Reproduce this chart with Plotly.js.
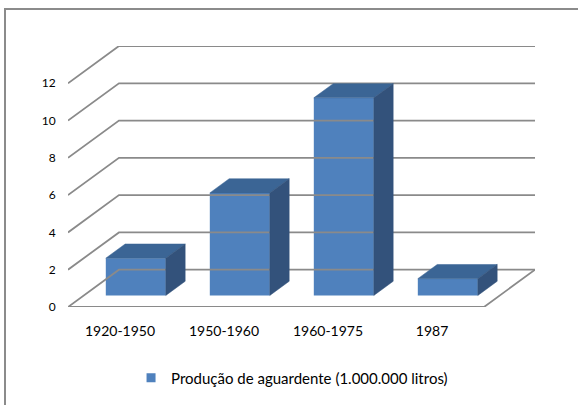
<!DOCTYPE html>
<html>
<head>
<meta charset="utf-8">
<script src="https://cdn.plot.ly/plotly-3.0.1.min.js"></script>
<style>
  html, body { margin: 0; padding: 0; background: #ffffff; overflow: hidden; }
  #wrap { position: relative; width: 578px; height: 405px; }
  #chart { position: absolute; left: 0; top: 0; width: 578px; height: 405px; }
  #frame { position: absolute; left: 4px; top: 8px; width: 700px; height: 600px;
           border-left: 2px solid #8b8b8b; border-top: 2px solid #8b8b8b; pointer-events: none; }
</style>
</head>
<body>
<div id="wrap">
  <div id="chart"></div>
  <div id="frame"></div>
</div>
<script>
// Produção de aguardente por período (milhões de litros)
const categories = ['1920-1950', '1950-1960', '1960-1975', '1987'];
const production = [2.0, 5.5, 10.6, 0.9];
const yTicks = [0, 2, 4, 6, 8, 10, 12];
const seriesName = 'Produção de aguardente (1.000.000 litros)';

// 3D box geometry, in axis units
const DEPTH_X = 0.49;     // floor depth along x
const DEPTH_Y = 2;        // floor depth along y
const BAR_W = 0.577;      // bar width
const BAR_FRONT = 0.31;   // where the bar front sits inside the floor depth
const BAR_DEPTH = 0.38;   // bar depth as a fraction of floor depth

const FRONT = '#4F81BD', TOP = '#3B6595', SIDE = '#33527B', GRID = '#8a8a8a';

const x0 = -0.5, x1 = categories.length - 0.5;

// walls: left-side diagonals and back-wall lines for every tick, plus the floor edges
const gx = [], gy = [];
yTicks.forEach(v => {
  gx.push(x0, x0 + DEPTH_X, x1 + DEPTH_X, null);
  gy.push(v, v + DEPTH_Y, v + DEPTH_Y, null);
});
gx.push(x0, x1, x1 + DEPTH_X, null);
gy.push(0, 0, DEPTH_Y, null);

const offX = BAR_FRONT * DEPTH_X, offY = BAR_FRONT * DEPTH_Y;
const dX = BAR_DEPTH * DEPTH_X, dY = BAR_DEPTH * DEPTH_Y;

const topX = [], topY = [], sideX = [], sideY = [];
production.forEach((v, i) => {
  const l = i + offX - BAR_W / 2, r = i + offX + BAR_W / 2;
  const b = offY, t = offY + v;
  topX.push(l, r, r + dX, l + dX, l, null);
  topY.push(t, t, t + dY, t + dY, t, null);
  sideX.push(r, r + dX, r + dX, r, r, null);
  sideY.push(b, b + dY, t + dY, t, b, null);
});

const traces = [
  { type: 'scatter', mode: 'lines', x: gx, y: gy, cliponaxis: false,
    line: { color: GRID, width: 1.8 }, hoverinfo: 'skip', showlegend: false },
  { type: 'bar', x: categories.map((c, i) => i + offX), y: production,
    base: offY, width: BAR_W, name: seriesName, showlegend: false, legendgroup: 's',
    marker: { color: FRONT, line: { width: 0 } } },
  { type: 'scatter', mode: 'lines', x: topX, y: topY, fill: 'toself', fillcolor: TOP,
    line: { color: TOP, width: 0.5 }, cliponaxis: false, hoverinfo: 'skip', showlegend: false },
  { type: 'scatter', mode: 'lines', x: sideX, y: sideY, fill: 'toself', fillcolor: SIDE,
    line: { color: SIDE, width: 0.5 }, cliponaxis: false, hoverinfo: 'skip', showlegend: false },
  { type: 'scatter', mode: 'markers', x: [null], y: [null], name: seriesName, legendgroup: 's',
    marker: { symbol: 'square', size: 9, color: FRONT }, showlegend: true }
];

const layout = {
  width: 578, height: 405,
  margin: { l: 68, r: 43, t: 46, b: 97 },
  paper_bgcolor: '#ffffff', plot_bgcolor: 'rgba(0,0,0,0)',
  font: { family: 'Lato, "Open Sans", sans-serif', color: '#000000' },
  barmode: 'overlay',
  xaxis: {
    range: [x0, x1 + DEPTH_X], fixedrange: true,
    tickmode: 'array', tickvals: categories.map((c, i) => i), ticktext: categories,
    showgrid: false, zeroline: false, showline: false,
    ticks: 'outside', ticklen: 11, tickcolor: 'rgba(0,0,0,0)',
    tickfont: { size: 14 }
  },
  yaxis: {
    range: [0, 14], fixedrange: true,
    tickmode: 'array', tickvals: yTicks,
    showgrid: false, zeroline: false, showline: false,
    ticks: 'outside', ticklen: 9, tickcolor: 'rgba(0,0,0,0)',
    tickfont: { size: 12 }
  },
  showlegend: true,
  legend: {
    orientation: 'h', x: 0.135, xanchor: 'left', y: -0.267, yanchor: 'middle',
    font: { size: 15 }, bgcolor: 'rgba(0,0,0,0)'
  }
};

Plotly.newPlot('chart', traces, layout, { staticPlot: true });
</script>
</body>
</html>
